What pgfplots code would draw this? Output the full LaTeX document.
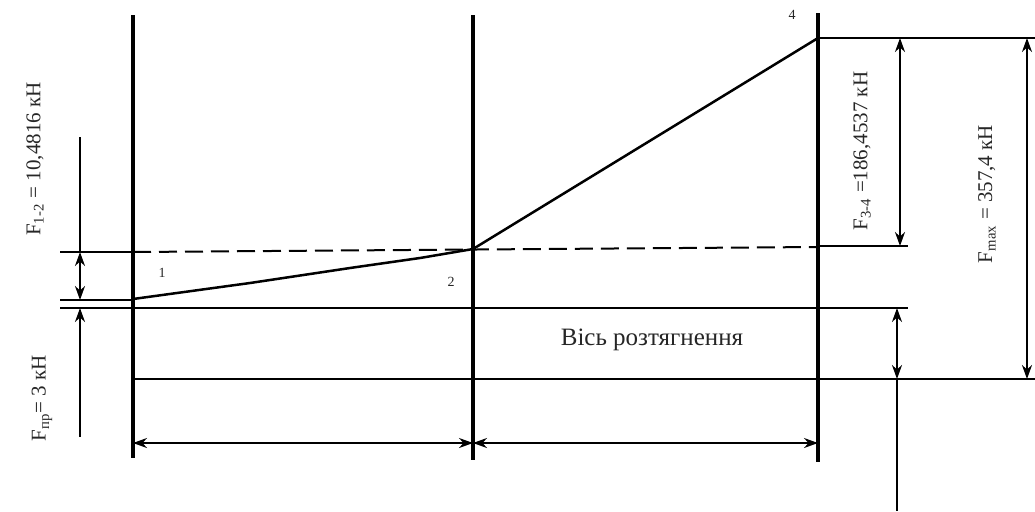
\documentclass[border=0pt]{standalone}
\usepackage{fontspec}
\setmainfont{Liberation Serif}
\usepackage{pgfplots}
\pgfplotsset{compat=1.18}
\usetikzlibrary{arrows.meta}

\tikzset{
  heavy/.style={black, line width=1.7pt},
  mid/.style={black, line width=1.25pt},
  thinl/.style={black, line width=1.0pt},
  tip/.tip={Stealth[length=7pt,width=5pt]},
  dimboth/.style={thinl, tip-tip},
  dimup/.style={thinl, tip-},
  lbl/.style={text=black!85, inner sep=0pt},
}

\begin{document}
\begin{tikzpicture}
\begin{axis}[
  width=517.5pt, height=255.5pt, scale only axis,
  xmin=0, xmax=1035, ymin=0, ymax=511, y dir=reverse,
  hide axis, clip=false,
]
% vertical section lines
\addplot[heavy] coordinates {(133,15)(133,458)};
\addplot[heavy] coordinates {(473,15)(473,460)};
\addplot[heavy] coordinates {(818,13)(818,462)};

% load diagram 1-2-4
\addplot[mid] coordinates {(133,299)(250,283)(350,268)(420,258)(473,249)};
\addplot[mid] coordinates {(473,249)(818,38)};
\addplot[thinl, dash pattern=on 9pt off 4pt] coordinates {(133,252)(818,247)};

% horizontal reference lines
\addplot[thinl] coordinates {(60,252)(133,252)};
\addplot[thinl] coordinates {(60,300)(133,300)};
\addplot[mid] coordinates {(60,308)(908,308)};
\addplot[mid] coordinates {(133,379)(1035,379)};
\addplot[mid] coordinates {(818,38)(1035,38)};
\addplot[mid] coordinates {(818,246)(908,246)};

% left dimension lines
\addplot[thinl] coordinates {(80,137)(80,252)};
\addplot[dimboth] coordinates {(80,252)(80,300)};
\addplot[dimup] coordinates {(80,308)(80,437)};

% right dimension lines
\addplot[dimboth] coordinates {(900,38)(900,246)};
\addplot[dimboth] coordinates {(897,308)(897,379)};
\addplot[thinl] coordinates {(897,379)(897,511)};
\addplot[dimboth] coordinates {(1027,38)(1027,379)};

% bottom dimension lines
\addplot[dimboth] coordinates {(133,443)(473,443)};
\addplot[dimboth] coordinates {(473,443)(818,443)};

% texts
\node[lbl, rotate=90, font=\fontsize{10.5}{12}\selectfont] at (axis cs:35,159) {F\textsubscript{1-2} = 10,4816 кН};
\node[lbl, rotate=90, font=\fontsize{10.5}{12}\selectfont] at (axis cs:42,398) {F\textsubscript{пр}= 3 кН};
\node[lbl, rotate=90, font=\fontsize{10.5}{12}\selectfont] at (axis cs:862,151) {F\textsubscript{3-4} =186,4537 кН};
\node[lbl, rotate=90, font=\fontsize{10.5}{12}\selectfont] at (axis cs:987,194) {F\textsubscript{max} = 357,4 кН};
\node[lbl, font=\fontsize{12.5}{14}\selectfont] at (axis cs:652,340) {Вісь розтягнення};
\node[lbl, font=\fontsize{7}{8}\selectfont] at (axis cs:162,273) {1};
\node[lbl, font=\fontsize{7}{8}\selectfont] at (axis cs:451,282) {2};
\node[lbl, font=\fontsize{7}{8}\selectfont] at (axis cs:792,15) {4};
\end{axis}
\pgfresetboundingbox
\useasboundingbox (current axis.south west) rectangle (current axis.north east);
\end{tikzpicture}
\end{document}
